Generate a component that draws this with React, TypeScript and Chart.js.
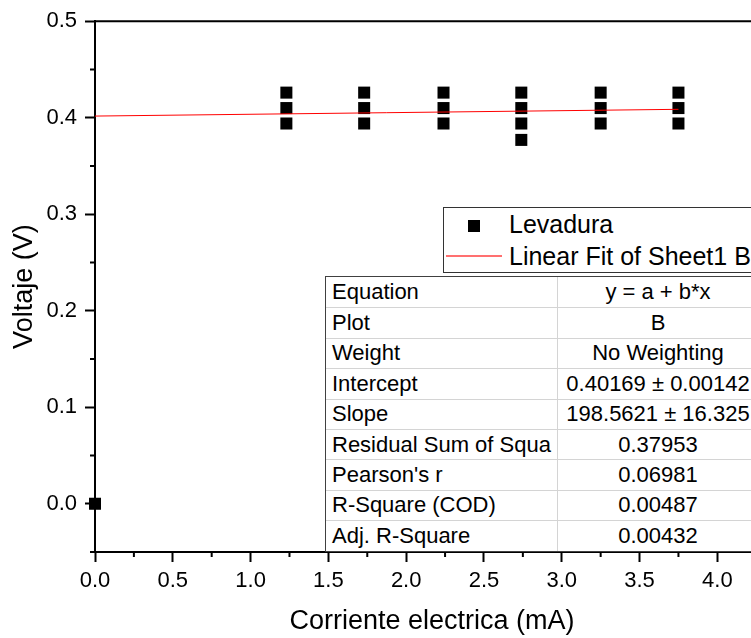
import React, { useEffect, useRef } from "react";
import { Chart, registerables } from "chart.js";

Chart.register(...registerables);

// ---- Data ----
const currentMA = [
  0,
  1.23, 1.23, 1.23,
  1.73, 1.73, 1.73,
  2.24, 2.24, 2.24,
  2.74, 2.74, 2.74, 2.74,
  3.25, 3.25, 3.25,
  3.75, 3.75, 3.75,
];
const voltageV = [
  0,
  0.426, 0.41, 0.394,
  0.426, 0.41, 0.394,
  0.426, 0.41, 0.394,
  0.426, 0.41, 0.394, 0.377,
  0.426, 0.41, 0.394,
  0.426, 0.41, 0.394,
];
const fitCurrentMA = [0, 3.75];
const fitVoltageV = [0.40169, 0.4087];

const xMajorTicks = [0, 0.5, 1.0, 1.5, 2.0, 2.5, 3.0, 3.5, 4.0];
const xMinorTicks = [0.25, 0.75, 1.25, 1.75, 2.25, 2.75, 3.25, 3.75, 4.25];
const yMajorTicks = [0, 0.1, 0.2, 0.3, 0.4, 0.5];
const yMinorTicks = [-0.05, 0.05, 0.15, 0.25, 0.35, 0.45];

const X_MIN = 0;
const X_MAX = 4.332;
const Y_MIN = -0.05;
const Y_MAX = 0.5;

const seriesName = "Levadura";
const fitName = "Linear Fit of Sheet1 B";
const xTitle = "Corriente electrica (mA)";
const yTitle = "Voltaje (V)";

const tableLabels = [
  "Equation",
  "Plot",
  "Weight",
  "Intercept",
  "Slope",
  "Residual Sum of Squa",
  "Pearson's r",
  "R-Square (COD)",
  "Adj. R-Square",
];
const tableValues = [
  "y = a + b*x",
  "B",
  "No Weighting",
  "0.40169 \u00B1 0.00142",
  "198.5621 \u00B1 16.325",
  "0.37953",
  "0.06981",
  "0.00487",
  "0.00432",
];

const FONT = "'Liberation Sans', Arial, Helvetica, sans-serif";

const frameAndMinorTicks = {
  id: "frameAndMinorTicks",
  afterDraw(chart: any) {
    const { ctx, chartArea: a, scales } = chart;
    ctx.save();
    ctx.strokeStyle = "#000";
    ctx.lineWidth = 2;
    ctx.beginPath();
    for (const v of yMinorTicks) {
      const y = scales.y.getPixelForValue(v);
      ctx.moveTo(a.left - 5, y);
      ctx.lineTo(a.left, y);
    }
    for (const v of xMinorTicks) {
      const x = scales.x.getPixelForValue(v);
      if (x > a.right) continue;
      ctx.moveTo(x, a.bottom);
      ctx.lineTo(x, a.bottom + 5);
    }
    ctx.moveTo(a.left - 1, a.top);
    ctx.lineTo(a.right, a.top);
    ctx.lineTo(a.right, a.bottom);
    ctx.stroke();
    ctx.restore();
  },
};

export default function App() {
  const canvasRef = useRef<HTMLCanvasElement | null>(null);

  useEffect(() => {
    const canvas = canvasRef.current;
    if (!canvas) return;
    const chart = new Chart(canvas, {
      type: "scatter",
      data: {
        datasets: [
          {
            label: fitName,
            data: fitCurrentMA.map((x, i) => ({ x, y: fitVoltageV[i] })),
            showLine: true,
            borderColor: "#ff0000",
            borderWidth: 1,
            pointRadius: 0,
            fill: false,
            order: 0,
          } as any,
          {
            label: seriesName,
            data: currentMA.map((x, i) => ({ x, y: voltageV[i] })),
            pointStyle: "rect",
            pointRadius: 8.5,
            pointHoverRadius: 8.5,
            backgroundColor: "#000",
            borderColor: "#000",
            borderWidth: 0,
            order: 1,
            clip: false,
          } as any,
        ],
      },
      options: {
        responsive: false,
        maintainAspectRatio: false,
        animation: false,
        devicePixelRatio: 1,
        layout: { padding: { left: 0, top: 20, right: 11, bottom: 0 } },
        plugins: {
          legend: { display: false },
          tooltip: { enabled: false },
        },
        scales: {
          x: {
            type: "linear",
            min: X_MIN,
            max: X_MAX,
            afterBuildTicks: (s: any) => {
              s.ticks = xMajorTicks.map((v) => ({ value: v }));
            },
            afterFit: (s: any) => {
              s.height = 86;
            },
            grid: {
              drawOnChartArea: false,
              drawTicks: true,
              tickLength: 10,
              tickWidth: 2,
              tickColor: "#000",
            },
            border: { display: true, color: "#000", width: 2 },
            ticks: {
              font: { family: FONT, size: 22 },
              color: "#000",
              padding: 6,
              maxRotation: 0,
              autoSkip: false,
              callback: (v: any) => Number(v).toFixed(1),
            },
            title: {
              display: true,
              text: xTitle,
              font: { family: FONT, size: 27 },
              color: "#000",
              padding: { top: 0, bottom: 0 },
            },
          },
          y: {
            type: "linear",
            min: Y_MIN,
            max: Y_MAX,
            afterBuildTicks: (s: any) => {
              s.ticks = yMajorTicks.map((v) => ({ value: v }));
            },
            afterFit: (s: any) => {
              s.width = 95;
            },
            grid: {
              drawOnChartArea: false,
              drawTicks: true,
              tickLength: 10,
              tickWidth: 2,
              tickColor: "#000",
            },
            border: { display: true, color: "#000", width: 2 },
            ticks: {
              font: { family: FONT, size: 22 },
              color: "#000",
              padding: 8,
              autoSkip: false,
              callback: (v: any) => Number(v).toFixed(1),
            },
            title: {
              display: true,
              text: yTitle,
              font: { family: FONT, size: 27 },
              color: "#000",
              padding: { top: 8, bottom: 0 },
            },
          },
        },
      },
      plugins: [frameAndMinorTicks],
    });
    return () => chart.destroy();
  }, []);

  const rowH = 30.4;

  return (
    <div
      style={{
        position: "fixed",
        left: 0,
        top: 0,
        width: 751,
        height: 638,
        overflow: "hidden",
        background: "#fff",
        fontFamily: FONT,
        color: "#000",
      }}
    >
      <canvas ref={canvasRef} width={780} height={638} style={{ display: "block" }} />

      {/* Legend */}
      <div
        style={{
          position: "absolute",
          left: 443,
          top: 207,
          width: 320,
          height: 66,
          border: "1px solid #333",
          background: "#fff",
          boxSizing: "border-box",
        }}
      >
        <div
          style={{
            position: "absolute",
            left: 24,
            top: 12,
            width: 12,
            height: 12,
            background: "#000",
          }}
        />
        <div
          style={{
            position: "absolute",
            left: 65,
            top: 3.8,
            fontSize: 25,
            lineHeight: "25px",
            whiteSpace: "nowrap",
          }}
        >
          {seriesName}
        </div>
        <div
          style={{
            position: "absolute",
            left: 2,
            top: 46.5,
            width: 56,
            height: 2,
            background: "#ff7070",
          }}
        />
        <div
          style={{
            position: "absolute",
            left: 65,
            top: 36.3,
            fontSize: 25,
            lineHeight: "25px",
            whiteSpace: "nowrap",
          }}
        >
          {fitName}
        </div>
      </div>

      {/* Fit results table */}
      <div
        style={{
          position: "absolute",
          left: 325,
          top: 276,
          width: 440,
          height: rowH * tableLabels.length + 2,
          border: "1px solid #404040",
          background: "#fff",
          boxSizing: "border-box",
          fontSize: 22,
          lineHeight: 1,
        }}
      >
        {tableLabels.map((lab, i) => (
          <div
            key={i}
            style={{
              position: "absolute",
              left: 0,
              top: i * rowH,
              width: "100%",
              height: rowH,
              borderTop: i ? "1px solid #d4d4d4" : "none",
              boxSizing: "border-box",
              display: "flex",
              alignItems: "stretch",
            }}
          >
            <div
              style={{
                width: 232,
                paddingLeft: 6,
                boxSizing: "border-box",
                borderRight: "1px solid #d4d4d4",
                display: "flex",
                alignItems: "center",
                whiteSpace: "nowrap",
              }}
            >
              {lab}
            </div>
            <div
              style={{
                width: 200,
                display: "flex",
                alignItems: "center",
                justifyContent: "center",
                whiteSpace: "nowrap",
              }}
            >
              {tableValues[i]}
            </div>
          </div>
        ))}
      </div>
    </div>
  );
}
